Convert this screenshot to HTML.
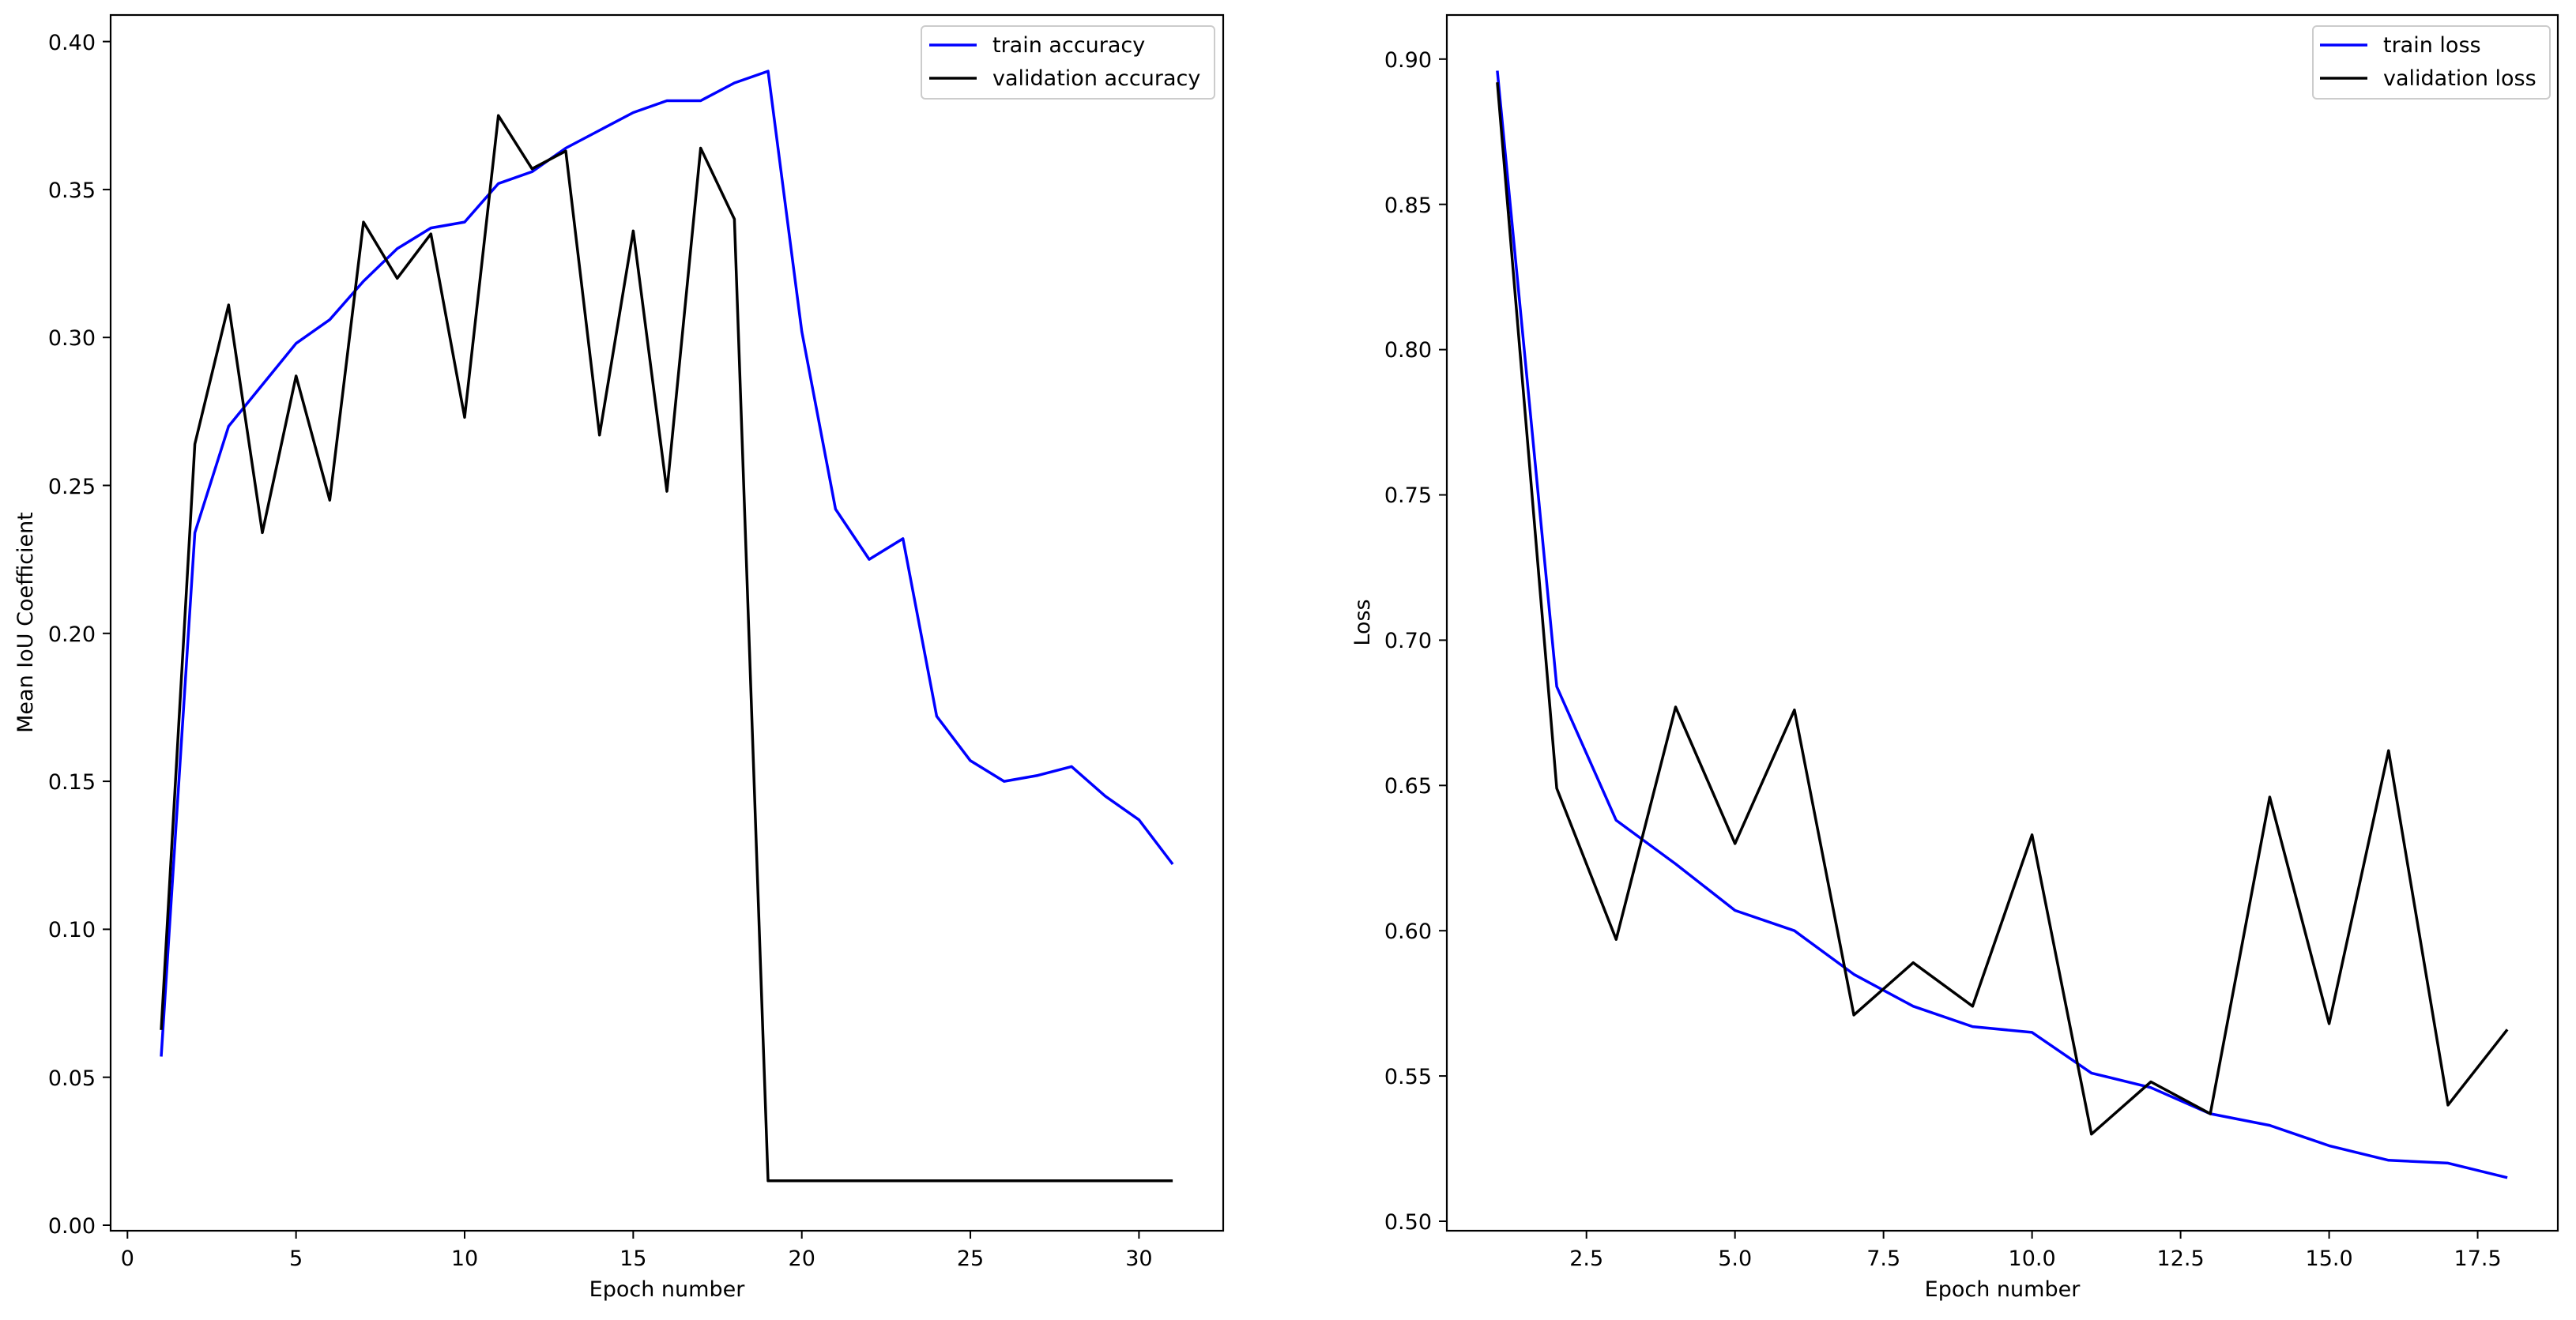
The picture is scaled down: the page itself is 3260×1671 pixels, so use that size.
<!DOCTYPE html>
<html><head><meta charset="utf-8"><style>
html,body{margin:0;padding:0;background:#fff}
svg text{font-family:"DejaVu Sans","Liberation Sans",sans-serif;font-size:27px;fill:#000}
</style></head><body>
<svg id="s" width="3260" height="1666" xmlns="http://www.w3.org/2000/svg">
<rect width="3260" height="1666" fill="#fff"/>
<g id="g"></g>
<rect x="140" y="19" width="1408" height="1539" fill="none" stroke="#000" stroke-width="2.2"/>
<rect x="1831" y="19" width="1406" height="1539" fill="none" stroke="#000" stroke-width="2.2"/>
<g text-anchor="end">
<text x="121" y="1561">0.00</text><text x="121" y="1374">0.05</text><text x="121" y="1186">0.10</text><text x="121" y="999">0.15</text><text x="121" y="812">0.20</text><text x="121" y="625">0.25</text><text x="121" y="437">0.30</text><text x="121" y="250">0.35</text><text x="121" y="63">0.40</text>
<text x="1812" y="1556">0.50</text><text x="1812" y="1372">0.55</text><text x="1812" y="1188">0.60</text><text x="1812" y="1004">0.65</text><text x="1812" y="820">0.70</text><text x="1812" y="636">0.75</text><text x="1812" y="452">0.80</text><text x="1812" y="269">0.85</text><text x="1812" y="85">0.90</text>
</g>
<g text-anchor="middle">
<text x="161.3" y="1602">0</text><text x="374.6" y="1602">5</text><text x="588" y="1602">10</text><text x="801.3" y="1602">15</text><text x="1014.7" y="1602">20</text><text x="1228" y="1602">25</text><text x="1441.4" y="1602">30</text>
<text x="2007.7" y="1602">2.5</text><text x="2195.7" y="1602">5.0</text><text x="2383.7" y="1602">7.5</text><text x="2571.6" y="1602">10.0</text><text x="2759.6" y="1602">12.5</text><text x="2947.6" y="1602">15.0</text><text x="3135.6" y="1602">17.5</text>
<text x="844" y="1641">Epoch number</text>
<text x="2534" y="1641">Epoch number</text>
<text transform="translate(41,788) rotate(-90)">Mean IoU Coefficient</text>
<text transform="translate(1733,788) rotate(-90)">Loss</text>
</g>
<rect x="1166" y="33" width="371" height="92" rx="5" fill="#fff" fill-opacity="0.8" stroke="#ccc" stroke-width="2"/>
<line x1="1176" y1="57" x2="1236" y2="57" stroke="#0000ff" stroke-width="3.5"/>
<line x1="1176" y1="99" x2="1236" y2="99" stroke="#000" stroke-width="3.5"/>
<text x="1256" y="66">train accuracy</text><text x="1256" y="108">validation accuracy</text>
<rect x="2927" y="33" width="300" height="92" rx="5" fill="#fff" fill-opacity="0.8" stroke="#ccc" stroke-width="2"/>
<line x1="2936" y1="57" x2="2996" y2="57" stroke="#0000ff" stroke-width="3.5"/>
<line x1="2936" y1="99" x2="2996" y2="99" stroke="#000" stroke-width="3.5"/>
<text x="3016" y="66">train loss</text><text x="3016" y="108">validation loss</text>
</svg>
<script>
var g=document.getElementById('g'),NS='http://www.w3.org/2000/svg';
function el(t,a){var e=document.createElementNS(NS,t);for(var k in a)e.setAttribute(k,a[k]);g.appendChild(e);}
var lx=function(x){return 161.3+42.67*x},ly=function(v){return 1551-3746*v};
var rx=function(x){return 1831+(x-0.15)*75.19},ry=function(v){return 1546-3678*(v-0.5)};
[0,5,10,15,20,25,30].forEach(function(x){el('line',{x1:lx(x),x2:lx(x),y1:1558,y2:1568,stroke:'#000','stroke-width':2});});
for(var i=0;i<=8;i++){el('line',{x1:130,x2:140,y1:ly(i*0.05),y2:ly(i*0.05),stroke:'#000','stroke-width':2});
el('line',{x1:1821,x2:1831,y1:ry(0.5+i*0.05),y2:ry(0.5+i*0.05),stroke:'#000','stroke-width':2});}
[2.5,5,7.5,10,12.5,15,17.5].forEach(function(x){el('line',{x1:rx(x),x2:rx(x),y1:1558,y2:1568,stroke:'#000','stroke-width':2});});
var ta=[0.057,0.234,0.270,0.284,0.298,0.306,0.319,0.330,0.337,0.339,0.352,0.356,0.364,0.370,0.376,0.380,0.380,0.386,0.390,0.302,0.242,0.225,0.232,0.172,0.157,0.150,0.152,0.155,0.145,0.137,0.122];
var va=[0.066,0.264,0.311,0.234,0.287,0.245,0.339,0.320,0.335,0.273,0.375,0.357,0.363,0.267,0.336,0.248,0.364,0.340];
for(i=va.length;i<31;i++)va.push(0.015);
var tl=[0.896,0.684,0.638,0.623,0.607,0.600,0.585,0.574,0.567,0.565,0.551,0.546,0.537,0.533,0.526,0.521,0.520,0.515];
var vl=[0.892,0.649,0.597,0.677,0.630,0.676,0.571,0.589,0.574,0.633,0.530,0.548,0.537,0.646,0.568,0.662,0.540,0.566];
function pl(d,fx,fy,c){el('polyline',{points:d.map(function(v,i){return fx(i+1).toFixed(1)+','+fy(v).toFixed(1)}).join(' '),fill:'none',stroke:c,'stroke-width':3.5,'stroke-linejoin':'round'});}
pl(ta,lx,ly,'#0000ff');pl(va,lx,ly,'#000');pl(tl,rx,ry,'#0000ff');pl(vl,rx,ry,'#000');
</script>
</body></html>
